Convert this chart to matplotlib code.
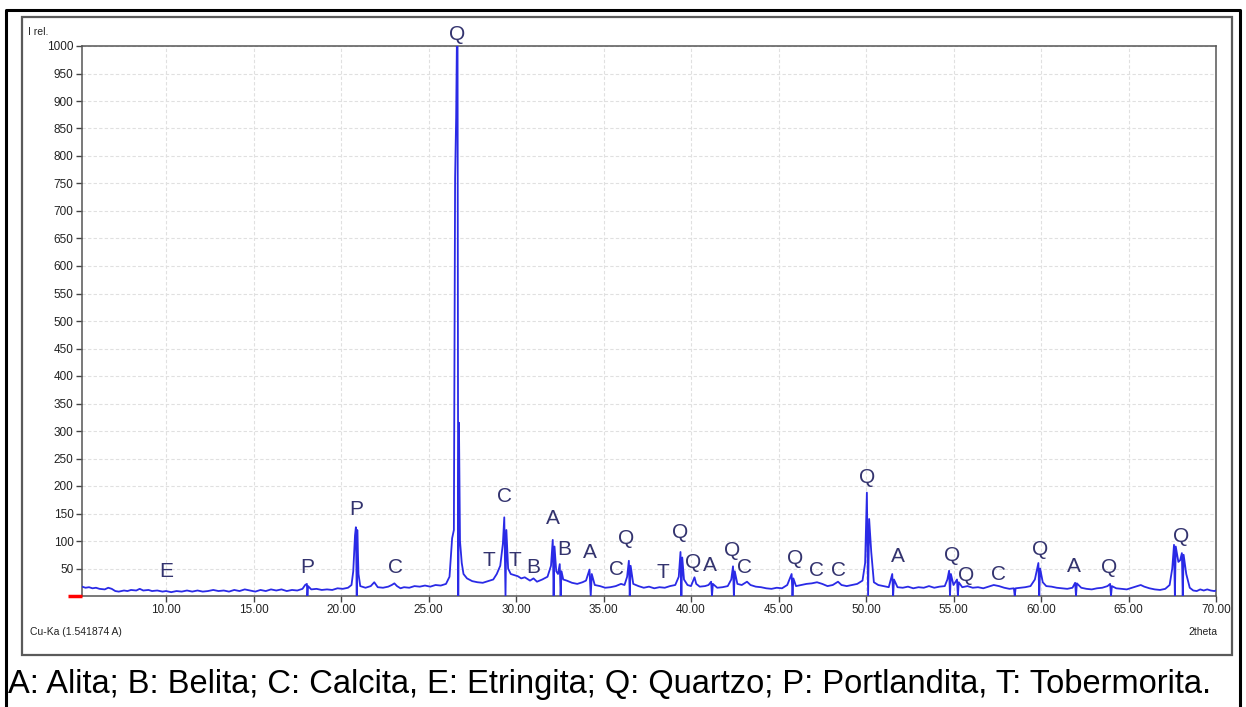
import matplotlib
matplotlib.use("Agg")
import matplotlib.pyplot as plt
from matplotlib.lines import Line2D
from matplotlib.patches import Rectangle

# =====================================================================
# DATA — XRD pattern (2theta, I rel.)
# =====================================================================
pattern = [
    (5.2, 17), (5.4, 15), (5.6, 16), (5.8, 14), (6.0, 15), (6.2, 13), (6.5, 12),
    (6.7, 15), (6.9, 13), (7.1, 9), (7.3, 8), (7.6, 10), (7.8, 9), (8.0, 11),
    (8.3, 10), (8.5, 13), (8.7, 10), (9.0, 11), (9.2, 9), (9.5, 10), (9.8, 8),
    (10.0, 9), (10.3, 7), (10.6, 9), (10.9, 8), (11.2, 10), (11.5, 8), (11.8, 10),
    (12.1, 8), (12.4, 9), (12.7, 11), (13.0, 9), (13.3, 10), (13.6, 8), (13.9, 11),
    (14.2, 9), (14.5, 12), (14.8, 10), (15.1, 8), (15.4, 11), (15.7, 9), (16.0, 12),
    (16.3, 10), (16.6, 12), (16.9, 9), (17.2, 11), (17.5, 10), (17.8, 13),
    (17.95, 20), (18.05, 22), (18.08, 0), (18.12, 18), (18.3, 12), (18.6, 13),
    (18.9, 11), (19.2, 12), (19.5, 11), (19.8, 14), (20.1, 13), (20.4, 15),
    (20.6, 20), (20.7, 45), (20.8, 110), (20.85, 125), (20.9, 0), (20.93, 120),
    (21.0, 40), (21.1, 18), (21.4, 15), (21.7, 18), (21.9, 25), (22.1, 16),
    (22.4, 15), (22.7, 17), (22.9, 20), (23.05, 23), (23.2, 18), (23.4, 14),
    (23.6, 16), (23.9, 15), (24.2, 18), (24.5, 17), (24.8, 19), (25.1, 17),
    (25.4, 20), (25.7, 19), (26.0, 22), (26.2, 35), (26.35, 105), (26.45, 120),
    (26.52, 760), (26.58, 870), (26.62, 1000), (26.66, 1000), (26.7, 0),
    (26.74, 315), (26.8, 100), (26.9, 60), (27.0, 40), (27.2, 32), (27.5, 27),
    (27.8, 25), (28.1, 24), (28.4, 27), (28.7, 30), (28.9, 40), (29.1, 55),
    (29.25, 95), (29.33, 143), (29.4, 0), (29.45, 120), (29.55, 50), (29.7, 40),
    (29.9, 38), (30.1, 36), (30.3, 32), (30.5, 34), (30.8, 28), (31.0, 32),
    (31.2, 26), (31.5, 30), (31.8, 35), (32.0, 55), (32.1, 102), (32.15, 0),
    (32.2, 90), (32.3, 45), (32.4, 40), (32.5, 58), (32.55, 0), (32.6, 45),
    (32.7, 30), (32.9, 28), (33.2, 24), (33.5, 22), (33.8, 25), (34.0, 28),
    (34.2, 48), (34.27, 0), (34.33, 40), (34.5, 20), (34.8, 18), (35.1, 15),
    (35.4, 16), (35.7, 18), (36.0, 22), (36.2, 20), (36.35, 35), (36.45, 64),
    (36.5, 0), (36.55, 55), (36.7, 22), (37.0, 18), (37.3, 15), (37.6, 17),
    (37.9, 14), (38.2, 16), (38.5, 15), (38.8, 18), (39.1, 20), (39.3, 35),
    (39.4, 80), (39.45, 0), (39.5, 70), (39.6, 30), (39.8, 20), (40.0, 18),
    (40.2, 34), (40.3, 22), (40.5, 17), (40.8, 18), (41.0, 20), (41.15, 26),
    (41.2, 0), (41.25, 22), (41.5, 15), (41.8, 16), (42.1, 18), (42.3, 30),
    (42.4, 54), (42.45, 0), (42.5, 45), (42.65, 22), (42.9, 20), (43.2, 26),
    (43.4, 20), (43.7, 17), (44.0, 16), (44.3, 14), (44.6, 13), (44.9, 15),
    (45.2, 14), (45.5, 20), (45.75, 40), (45.8, 0), (45.85, 32), (46.0, 18),
    (46.3, 20), (46.6, 22), (46.9, 23), (47.2, 25), (47.5, 22), (47.8, 18),
    (48.1, 20), (48.4, 26), (48.6, 20), (48.9, 18), (49.2, 20), (49.5, 22),
    (49.8, 28), (49.95, 60), (50.05, 188), (50.12, 0), (50.18, 140), (50.3, 80),
    (50.45, 25), (50.7, 20), (51.0, 18), (51.3, 16), (51.5, 40), (51.55, 0),
    (51.6, 30), (51.8, 16), (52.1, 15), (52.4, 17), (52.7, 14), (53.0, 16),
    (53.3, 15), (53.6, 18), (53.9, 15), (54.2, 17), (54.5, 18), (54.65, 30),
    (54.75, 46), (54.8, 0), (54.85, 40), (55.0, 20), (55.2, 30), (55.25, 0),
    (55.3, 25), (55.5, 16), (55.8, 18), (56.1, 15), (56.4, 16), (56.7, 14),
    (57.0, 17), (57.3, 20), (57.6, 18), (57.9, 15), (58.2, 13), (58.45, 14),
    (58.5, 0), (58.55, 14), (58.8, 15), (59.1, 16), (59.4, 18), (59.65, 30),
    (59.85, 60), (59.9, 0), (59.95, 50), (60.1, 25), (60.3, 18), (60.6, 17),
    (60.9, 15), (61.2, 14), (61.5, 13), (61.8, 15), (61.95, 24), (62.0, 0),
    (62.05, 23), (62.3, 15), (62.6, 13), (62.9, 12), (63.2, 14), (63.5, 15),
    (63.8, 18), (63.95, 22), (64.0, 0), (64.05, 18), (64.3, 14), (64.6, 13),
    (64.9, 12), (65.2, 15), (65.5, 18), (65.7, 20), (65.9, 17), (66.2, 14),
    (66.5, 12), (66.8, 11), (67.1, 13), (67.35, 20), (67.5, 50), (67.6, 93),
    (67.65, 0), (67.7, 90), (67.85, 62), (67.95, 65), (68.05, 78), (68.1, 0),
    (68.15, 75), (68.3, 40), (68.5, 15), (68.7, 10), (68.9, 9), (69.1, 12),
    (69.3, 10), (69.5, 12), (69.7, 10), (69.9, 9), (70.0, 10),
]
two_theta = [p[0] for p in pattern]
intensity = [p[1] for p in pattern]

# phase labels above the peaks
label_letters = ["E", "P", "P", "C", "Q", "T", "C", "T", "B", "A", "B", "A", "C",
                 "Q", "T", "Q", "Q", "A", "Q", "C", "Q", "C", "C", "Q", "A", "Q",
                 "Q", "C", "Q", "A", "Q", "Q"]
label_x = [10.0, 18.06, 20.86, 23.09, 26.63, 28.46, 29.37, 29.94, 30.97, 32.11,
           32.74, 34.23, 35.77, 36.29, 38.4, 39.37, 40.1, 41.09, 42.34, 43.03,
           45.94, 47.2, 48.4, 50.06, 51.83, 54.91, 55.71, 57.6, 59.94, 61.89,
           63.89, 68.0]
label_y = [44, 51, 158, 51, 1020, 65, 180, 65, 51, 140, 84, 80, 49, 105, 42,
           116, 60, 55, 82, 51, 69, 47, 47, 216, 71, 73, 38, 40, 85, 53, 51, 109]

x_ticks = [10, 15, 20, 25, 30, 35, 40, 45, 50, 55, 60, 65, 70]
y_ticks = list(range(50, 1001, 50))

CAPTION = ("A: Alita; B: Belita; C: Calcita, E: Etringita; Q: Quartzo; "
           "P: Portlandita, T: Tobermorita.")

# =====================================================================
# FIGURE
# =====================================================================
W, H = 1246, 707
plt.rcParams["font.family"] = ["Liberation Sans", "DejaVu Sans"]
fig = plt.figure(figsize=(W / 100, H / 100), dpi=100)


def fx(px):
    return px / W


def fy(py):
    return 1 - py / H


# outer black frame (open at the bottom) and grey chart panel
fig.add_artist(Line2D([fx(6), fx(6), fx(1240), fx(1240)],
                      [0, fy(10), fy(10), 0], color="black", lw=2.2))
fig.add_artist(Rectangle((fx(22), fy(655)), fx(1232) - fx(22), fy(17) - fy(655),
                         transform=fig.transFigure, fill=False,
                         edgecolor="#5a5a5a", lw=1.6))

ax = fig.add_axes([fx(82), fy(596), fx(1216) - fx(82), fy(46) - fy(596)])
ax.set_xlim(5.2, 70.0)
ax.set_ylim(0, 1000)

ax.grid(True, color="#e0e0e0", lw=0.8, linestyle=(0, (3, 2)))
ax.set_axisbelow(True)

ax.plot(two_theta, intensity, color="#2a2ae6", lw=1.3, zorder=3)

for letter, lx, ly in zip(label_letters, label_x, label_y):
    ax.text(lx, ly, letter, ha="center", va="center", fontsize=15,
            color="#33336e", clip_on=False, zorder=4)

ax.set_xticks(x_ticks)
ax.set_xticklabels([f"{t:.2f}" for t in x_ticks], fontsize=8.5, color="#222222")
ax.set_yticks(y_ticks)
ax.set_yticklabels([str(t) for t in y_ticks], fontsize=8.5, color="#222222")
ax.tick_params(axis="both", direction="out", length=4, width=1,
               color="#444444", pad=2)

for side in ["left", "bottom", "top", "right"]:
    ax.spines[side].set_color("#555555")
    ax.spines[side].set_linewidth(1.1)

# red start marker on the baseline
ax.plot([4.4, 5.2], [0, 0], color="red", lw=2.5, clip_on=False,
        solid_capstyle="butt", zorder=5)

fig.text(fx(28), fy(32), "I rel.", fontsize=7.5, color="#222222",
         ha="left", va="center")
fig.text(fx(30), fy(632), "Cu-Ka (1.541874 A)", fontsize=7.5, color="#222222",
         ha="left", va="center")
fig.text(fx(1217), fy(632), "2theta", fontsize=7.5, color="#222222",
         ha="right", va="center")

fig.text(fx(8), fy(684), CAPTION, fontsize=23.5, color="black",
         ha="left", va="center")

fig.savefig("out.png", dpi=100)
